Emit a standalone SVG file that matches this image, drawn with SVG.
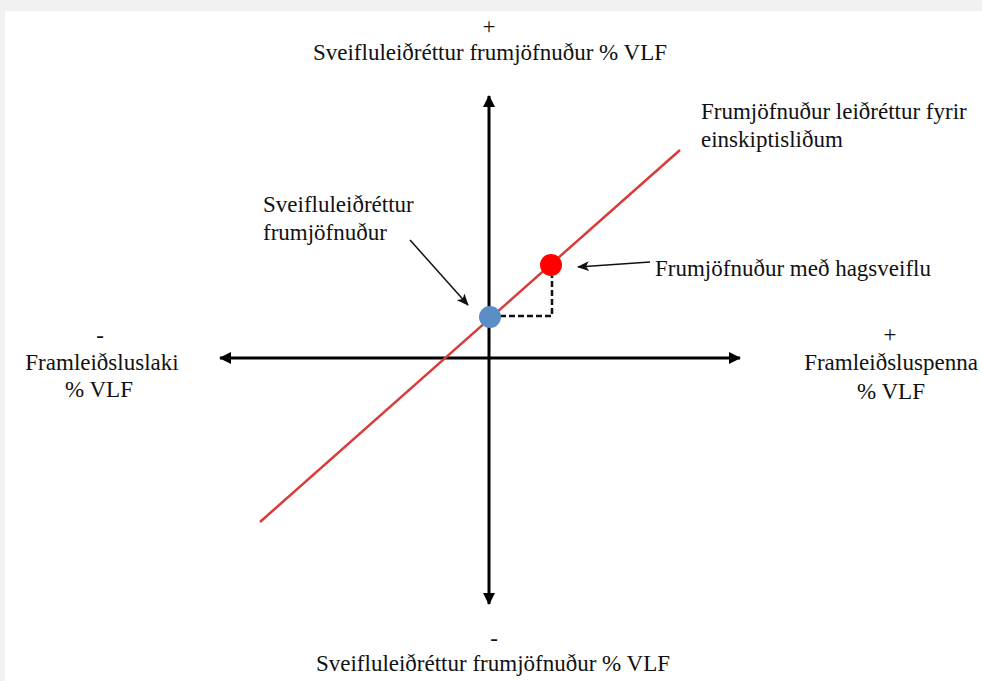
<svg xmlns="http://www.w3.org/2000/svg" width="982" height="681" viewBox="0 0 982 681">
<defs>
<style>
text{font-family:"Liberation Serif","Times New Roman",serif;font-size:23px;fill:#111}
.axis{stroke:#000;stroke-width:3;fill:none}
.ptr{stroke:#111;stroke-width:1.5;fill:none}
</style>
<marker id="ah" viewBox="0 0 12 12" refX="11" refY="6" markerWidth="12" markerHeight="12" markerUnits="userSpaceOnUse" orient="auto">
<path d="M0,0 L12,6 L0,12 Z" fill="#000"/>
</marker>
<marker id="sh" viewBox="0 0 12 10" refX="11" refY="5" markerWidth="12" markerHeight="10" markerUnits="userSpaceOnUse" orient="auto">
<path d="M0,0 L12,5 L0,10 L3,5 Z" fill="#111"/>
</marker>
</defs>
<rect width="982" height="681" fill="#f1f1f1"/>
<rect x="5" y="11" width="977" height="670" fill="#fff"/>
<g id="connectors">
<line id="axis-v-up" class="axis" x1="489" y1="358" x2="489" y2="96" marker-end="url(#ah)"/>
<line id="axis-v-down" class="axis" x1="489" y1="358" x2="489" y2="604" marker-end="url(#ah)"/>
<line id="axis-h-right" class="axis" x1="489" y1="358" x2="740" y2="358" marker-end="url(#ah)"/>
<line id="axis-h-left" class="axis" x1="489" y1="358" x2="220" y2="358" marker-end="url(#ah)"/>
<line id="red-line" x1="260" y1="522" x2="680" y2="150" stroke="#d93b3b" stroke-width="2.5"/>
<path id="dashed" d="M500,316 H552 V276" fill="none" stroke="#111" stroke-width="2.5" stroke-dasharray="6,3"/>
<line id="ptr-blue" class="ptr" x1="410" y1="240" x2="468" y2="305" marker-end="url(#sh)"/>
<line id="ptr-red" class="ptr" x1="650" y1="262" x2="578" y2="267" marker-end="url(#sh)"/>
</g>
<g id="node-blue"><circle cx="490" cy="317" r="11" fill="#5b8ec6"/></g>
<g id="node-red"><circle cx="551" cy="265" r="11" fill="#f00"/></g>
<g id="label-top">
<text x="489" y="34" text-anchor="middle">+</text>
<text x="490" y="60" text-anchor="middle">Sveifluleiðréttur frumjöfnuður % VLF</text>
</g>
<g id="label-bottom">
<text x="494" y="646" text-anchor="middle">-</text>
<text x="493" y="671" text-anchor="middle">Sveifluleiðréttur frumjöfnuður % VLF</text>
</g>
<g id="label-left">
<text x="100" y="343" text-anchor="middle">-</text>
<text x="102" y="370" text-anchor="middle">Framleiðsluslaki</text>
<text x="99" y="397" text-anchor="middle">% VLF</text>
</g>
<g id="label-right">
<text x="890" y="342" text-anchor="middle">+</text>
<text x="891" y="370" text-anchor="middle">Framleiðsluspenna</text>
<text x="891" y="399" text-anchor="middle">% VLF</text>
</g>
<g id="label-trend">
<text x="701" y="119">Frumjöfnuður leiðréttur fyrir</text>
<text x="701" y="147">einskiptisliðum</text>
</g>
<g id="label-blue">
<text x="263" y="212">Sveifluleiðréttur</text>
<text x="263" y="240">frumjöfnuður</text>
</g>
<g id="label-red">
<text x="655" y="276">Frumjöfnuður með hagsveiflu</text>
</g>
</svg>
